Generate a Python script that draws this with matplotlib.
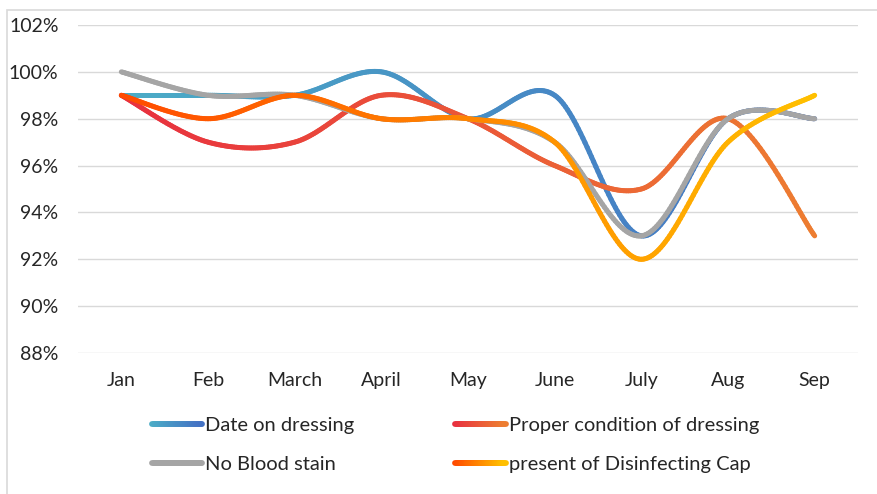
import numpy as np
import matplotlib
matplotlib.use("Agg")
import matplotlib.pyplot as plt
from matplotlib.collections import LineCollection
from matplotlib.colors import to_rgb
from matplotlib.bezier import BezierSegment
from matplotlib.legend_handler import HandlerBase
from matplotlib.patches import Rectangle
from matplotlib.ticker import FuncFormatter

plt.rcParams["font.family"] = ["Lato", "DejaVu Sans"]

months = ["Jan", "Feb", "March", "April", "May", "June", "July", "Aug", "Sep"]
date_on_dressing = [0.99, 0.99, 0.99, 1.00, 0.98, 0.99, 0.93, 0.98, 0.98]
proper_condition = [0.99, 0.97, 0.97, 0.99, 0.98, 0.96, 0.95, 0.98, 0.93]
no_blood_stain = [1.00, 0.99, 0.99, 0.98, 0.98, 0.97, 0.93, 0.98, 0.98]
disinfecting_cap = [0.99, 0.98, 0.99, 0.98, 0.98, 0.97, 0.92, 0.97, 0.99]
y_ticks = [0.88, 0.90, 0.92, 0.94, 0.96, 0.98, 1.00, 1.02]

series = [
    ("Date on dressing", date_on_dressing, "#4bacc6", "#4472c4"),
    ("Proper condition of dressing", proper_condition, "#e8303f", "#ed7d31"),
    ("No Blood stain", no_blood_stain, "#a5a5a5", "#a5a5a5"),
    ("present of Disinfecting Cap", disinfecting_cap, "#ff4a00", "#ffc000"),
]
LW = 3.6


def blend(c0, c1, f):
    a, b = np.array(to_rgb(c0)), np.array(to_rgb(c1))
    return a + (b - a) * np.clip(f, 0, 1)[:, None]


def smooth_path(x, y):
    # Excel style smoothing: Catmull-Rom converted to cubic Bezier segments
    pts = np.column_stack([x, y]).astype(float)
    n = len(pts)
    out = []
    for i in range(n - 1):
        prev = pts[max(i - 1, 0)]
        nxt = pts[min(i + 2, n - 1)]
        p0, p3 = pts[i], pts[i + 1]
        p1 = p0 + (p3 - prev) / 6
        p2 = p3 - (nxt - p0) / 6
        seg = BezierSegment(np.array([p0, p1, p2, p3]))
        t = np.linspace(0, 1, 40, endpoint=(i == n - 2))
        out.append(seg(t))
    return np.vstack(out)


class GradientHandler(HandlerBase):
    def __init__(self, c0, c1):
        super().__init__()
        self.c0, self.c1 = c0, c1

    def create_artists(self, legend, orig_handle, xdescent, ydescent,
                       width, height, fontsize, trans):
        xs = np.linspace(-xdescent, width - xdescent, 30)
        yc = height / 2 - ydescent
        segs = [[(xs[k], yc), (xs[k + 1], yc)] for k in range(len(xs) - 1)]
        cols = blend(self.c0, self.c1, np.linspace(0, 1, len(segs)))
        lc = LineCollection(segs, colors=cols, linewidths=LW + 0.6,
                            capstyle="round", transform=trans)
        return [lc]


fig = plt.figure(figsize=(8.77, 4.94), dpi=100)
fig.patches.append(Rectangle((7 / 877, -0.1), 1.2, (494 - 10) / 494 + 0.1,
                             transform=fig.transFigure, fill=False,
                             edgecolor="#d9d9d9", linewidth=1.2))
ax = fig.add_axes([78 / 877, (494 - 353) / 494, 780 / 877, 328 / 494])

x = np.arange(len(months))
handles, hmap = {}, {}
for z, (name, vals, c0, c1) in enumerate(series):
    curve = smooth_path(x, vals)
    segs = np.stack([curve[:-1], curve[1:]], axis=1)
    frac = (segs[:, 0, 0] - x[0]) / (x[-1] - x[0])
    lc = LineCollection(segs, colors=blend(c0, c1, frac), linewidths=LW,
                        capstyle="round", zorder=3 + z)
    ax.add_collection(lc)
    h = Rectangle((0, 0), 1, 1)
    handles[name] = h
    hmap[h] = GradientHandler(c0, c1)

ax.set_xlim(-0.5, len(months) - 0.5)
ax.set_ylim(0.88, 1.02)
ax.set_yticks(y_ticks)
ax.yaxis.set_major_formatter(FuncFormatter(lambda v, p: f"{v * 100:.0f}%"))
ax.set_xticks(x)
ax.set_xticklabels(months)
ax.grid(axis="y", color="#d9d9d9", linewidth=1)
ax.set_axisbelow(True)
for s in ax.spines.values():
    s.set_visible(False)
ax.tick_params(length=0, labelsize=14)
ax.tick_params(axis="y", pad=14)
ax.tick_params(axis="x", pad=14)
for lab in ax.get_xticklabels() + ax.get_yticklabels():
    lab.set_color("#262626")

# legend fills column by column, so order it to read row by row
order = ["Date on dressing", "No Blood stain",
         "Proper condition of dressing", "present of Disinfecting Cap"]
leg = fig.legend([handles[k] for k in order], order, handler_map=hmap,
                 ncol=2, frameon=False, loc="center left",
                 bbox_to_anchor=(152 / 877, (494 - 445) / 494),
                 fontsize=14.5, handlelength=2.5, handletextpad=0.15,
                 columnspacing=5.0, labelspacing=1.1, borderaxespad=0,
                 borderpad=0)
for t in leg.get_texts():
    t.set_color("#262626")

fig.savefig("out.png", dpi=100)
